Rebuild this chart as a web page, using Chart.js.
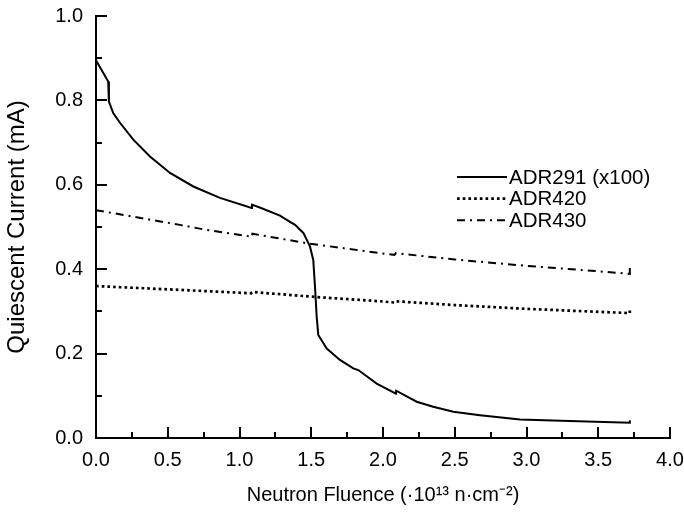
<!DOCTYPE html>
<html><head><meta charset="utf-8">
<script src="https://cdn.jsdelivr.net/npm/chart.js@4"></script>
<style>html,body{margin:0;padding:0;background:#fff}#wrap{width:684px;height:512px}</style>
</head><body><div id="wrap"><canvas id="c" width="684" height="512"></canvas></div>
<script>
const seriesNames = ['ADR291 (x100)', 'ADR420', 'ADR430'];
const adr291X = [0.0, 0.085, 0.09, 0.09, 0.12, 0.167, 0.26, 0.376, 0.516, 0.678, 0.864, 1.085, 1.087, 1.15, 1.282, 1.329, 1.387, 1.445, 1.491, 1.514, 1.526, 1.538, 1.549, 1.608, 1.70, 1.793, 1.828, 1.956, 2.09, 2.092, 2.235, 2.35, 2.49, 2.676, 2.955, 3.3, 3.72, 3.72];
const adr291Y = [0.895, 0.845, 0.84, 0.797, 0.77, 0.747, 0.707, 0.667, 0.628, 0.596, 0.569, 0.545, 0.553, 0.545, 0.527, 0.517, 0.505, 0.486, 0.454, 0.422, 0.359, 0.287, 0.244, 0.212, 0.185, 0.165, 0.161, 0.129, 0.105, 0.112, 0.086, 0.074, 0.062, 0.054, 0.044, 0.040, 0.036, 0.042];
const adr420X = [0.0, 0.585, 1.08, 1.09, 1.538, 1.98, 2.08, 2.09, 2.5, 3.0, 3.5, 3.72, 3.72];
const adr420Y = [0.360, 0.351, 0.343, 0.346, 0.334, 0.324, 0.321, 0.324, 0.315, 0.306, 0.299, 0.296, 0.302];
const adr430X = [0.0, 0.585, 0.771, 1.05, 1.085, 1.09, 1.48, 1.98, 2.08, 2.09, 2.5, 3.0, 3.5, 3.72, 3.72];
const adr430Y = [0.540, 0.505, 0.493, 0.479, 0.476, 0.484, 0.461, 0.438, 0.434, 0.438, 0.423, 0.408, 0.395, 0.389, 0.403];
const xTitle = 'Neutron Fluence (\u00B710\u00B9\u00B3 n\u00B7cm\u207B\u00B2)';
const yTitle = 'Quiescent Current (mA)';

const pts = (xs, ys) => xs.map((x, i) => ({x: x, y: ys[i]}));
const FONT = 'Liberation Sans, Arial, sans-serif';

const innerTicks = {
  id: 'innerTicks',
  afterDraw(chart) {
    const ctx = chart.ctx, xs = chart.scales.x, ys = chart.scales.y;
    const a = chart.chartArea;
    ctx.save();
    ctx.strokeStyle = '#000';
    ctx.lineWidth = 2;
    ctx.beginPath();
    for (let i = 0; i <= 16; i++) {
      const v = i * 0.25;
      const px = Math.round(xs.getPixelForValue(v));
      const len = (i % 2 === 0) ? 11 : 6;
      ctx.moveTo(px, a.bottom); ctx.lineTo(px, a.bottom - len);
    }
    for (let i = 0; i <= 10; i++) {
      const v = i * 0.1;
      const py = Math.round(ys.getPixelForValue(v));
      const len = (i % 2 === 0) ? 11 : 6;
      ctx.moveTo(a.left, py); ctx.lineTo(a.left + len, py);
    }
    ctx.stroke();
    ctx.restore();
  }
};

const legendPlugin = {
  id: 'customLegend',
  afterDraw(chart) {
    const ctx = chart.ctx, a = chart.chartArea;
    ctx.save();
    const x0 = a.left + 361, x1 = a.left + 411, tx = a.left + 413;
    chart.data.datasets.forEach((ds, i) => {
      const y = a.top + 161 + i * 21.6;
      ctx.beginPath();
      ctx.strokeStyle = ds.borderColor;
      ctx.lineWidth = ds.borderWidth;
      ctx.setLineDash(ds.borderDash || []);
      ctx.moveTo(x0, y); ctx.lineTo(x1, y);
      ctx.stroke();
      ctx.setLineDash([]);
      ctx.fillStyle = '#000';
      ctx.font = '20.5px ' + FONT;
      ctx.textBaseline = 'middle';
      ctx.textAlign = 'left';
      ctx.fillText(ds.label, tx, y + 1);
    });
    ctx.restore();
  }
};

function zeroPad(s) { s.paddingTop = 0; s.paddingBottom = 0; s.paddingLeft = 0; s.paddingRight = 0; }

new Chart(document.getElementById('c'), {
  type: 'line',
  data: {
    datasets: [
      {label: seriesNames[0], data: pts(adr291X, adr291Y), borderColor: '#000', borderWidth: 2, borderDash: [], pointRadius: 0, tension: 0, fill: false},
      {label: seriesNames[1], data: pts(adr420X, adr420Y), borderColor: '#000', borderWidth: 2.7, borderDash: [2.7, 3.0], pointRadius: 0, tension: 0, fill: false},
      {label: seriesNames[2], data: pts(adr430X, adr430Y), borderColor: '#000', borderWidth: 2, borderDash: [8, 5, 2, 5], pointRadius: 0, tension: 0, fill: false}
    ]
  },
  options: {
    responsive: false,
    animation: false,
    devicePixelRatio: 1,
    layout: {padding: {left: 0, top: 16, right: 14, bottom: 0}},
    plugins: {legend: {display: false}, tooltip: {enabled: false}},
    scales: {
      x: {
        type: 'linear', min: 0, max: 4,
        afterFit(s) { s.height = 74; zeroPad(s); },
        grid: {display: false, drawTicks: false},
        border: {display: true, color: '#000', width: 2},
        ticks: {stepSize: 0.5, padding: 10, color: '#000', font: {family: FONT, size: 20}, callback: v => v.toFixed(1), maxRotation: 0},
        title: {display: true, text: xTitle, color: '#000', font: {family: FONT, size: 20}, padding: {top: 0, bottom: 5}}
      },
      y: {
        type: 'linear', min: 0, max: 1,
        afterFit(s) { s.width = 96; zeroPad(s); },
        grid: {display: false, drawTicks: false},
        border: {display: true, color: '#000', width: 2},
        ticks: {stepSize: 0.2, padding: 13, color: '#000', font: {family: FONT, size: 20}, callback: v => v.toFixed(1)},
        title: {display: true, text: yTitle, color: '#000', font: {family: FONT, size: 24}, padding: {top: 3, bottom: 0}}
      }
    }
  },
  plugins: [innerTicks, legendPlugin]
});
</script>
</body></html>
